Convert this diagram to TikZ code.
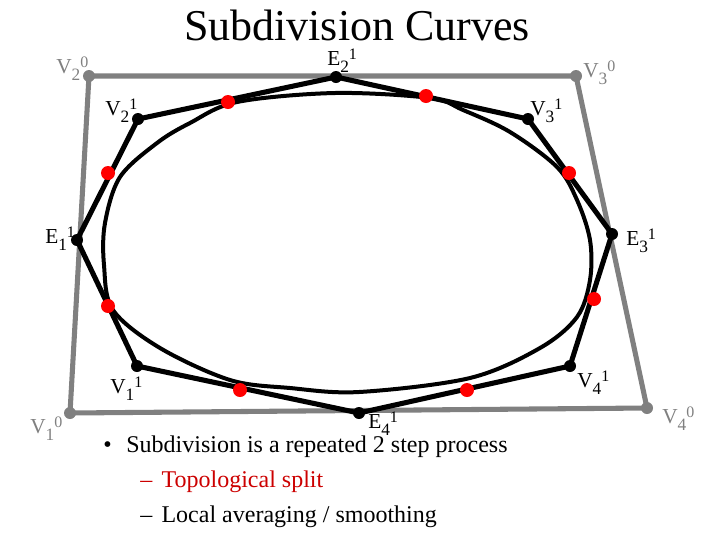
\documentclass[tikz,border=0pt]{standalone}
\usepackage{fontspec}
\setmainfont{Liberation Serif}
\usepackage{xcolor}
\usepackage{tikz}

\definecolor{ctrlgray}{RGB}{128,128,128}
\definecolor{splitred}{RGB}{204,0,0}

% vertex label: letter, subscript, superscript
\newcommand{\vlbl}[3]{\fontsize{16}{18}\selectfont #1\raisebox{-5.5pt}{\fontsize{13}{13}\selectfont #2}\raisebox{4pt}{\fontsize{12}{12}\selectfont #3}}

\tikzset{
  lvl0/.style={draw=ctrlgray, line width=3.8pt, line join=round},
  lvl1/.style={draw=black, line width=3.8pt, line join=round},
  limit/.style={draw=black, line width=3pt},
  gdot/.style={fill=ctrlgray},
  kdot/.style={fill=black},
  rdot/.style={fill=red},
}

\begin{document}
\begin{tikzpicture}[x=0.75pt,y=0.75pt,yscale=-1,xscale=1]
\useasboundingbox (0,0) rectangle (720,540);

% level 0 control points
\coordinate (V10) at (70,413);
\coordinate (V20) at (89,76);
\coordinate (V30) at (576,76);
\coordinate (V40) at (647,408);

% level 1 points
\coordinate (V11) at (137,366);
\coordinate (E11) at (77,240);
\coordinate (V21) at (138,119);
\coordinate (E21) at (336,77);
\coordinate (V31) at (528,119);
\coordinate (E31) at (612,234);
\coordinate (V41) at (570,366);
\coordinate (E41) at (359,413);

% split points
\coordinate (R1) at (108,306);
\coordinate (R2) at (108,173);
\coordinate (R3) at (228,102);
\coordinate (R4) at (426,96);
\coordinate (R5) at (569,173);
\coordinate (R6) at (594,299);
\coordinate (R7) at (467,390);
\coordinate (R8) at (240,390);

\draw [lvl0] (V20) -- (V30) -- (V40) -- (V10) -- cycle ;

\draw [lvl1] (V11) -- (E11) -- (V21) -- (E21) -- (V31) -- (E31) -- (V41) -- (E41) -- cycle ;

\draw [limit] plot [smooth cycle, tension=0.55] coordinates {(335,93) (430,98) (463,110) (510,132) (557,167) (577,200) (590,240) (590,280) (577,317) (540,348) (470,378) (359,392) (290,388) (230,380) (160,348) (113,310) (104,265) (105,223) (120,177) (157,143) (190,123) (237,102)} ;

\foreach \p in {V10,V20,V30,V40} \fill [gdot] (\p) circle (6) ;
\foreach \p in {V11,E11,V21,E21,V31,E31,V41,E41} \fill [kdot] (\p) circle (6) ;
\foreach \p in {R1,R2,R3,R4,R5,R6,R7,R8} \fill [rdot] (\p) circle (7) ;

% labels
\draw (56,73) node [anchor=base west][inner sep=0pt][text=ctrlgray] (lV20) {\vlbl{V}{2}{0}};
\draw (583,77) node [anchor=base west][inner sep=0pt][text=ctrlgray] (lV30) {\vlbl{V}{3}{0}};
\draw (662,423) node [anchor=base west][inner sep=0pt][text=ctrlgray] (lV40) {\vlbl{V}{4}{0}};
\draw (30,433) node [anchor=base west][inner sep=0pt][text=ctrlgray] (lV10) {\vlbl{V}{1}{0}};

\draw (327,65) node [anchor=base west][inner sep=0pt] (lE21) {\vlbl{E}{2}{1}};
\draw (105,115) node [anchor=base west][inner sep=0pt] (lV21) {\vlbl{V}{2}{1}};
\draw (530,115) node [anchor=base west][inner sep=0pt] (lV31) {\vlbl{V}{3}{1}};
\draw (45,243) node [anchor=base west][inner sep=0pt] (lE11) {\vlbl{E}{1}{1}};
\draw (626,245) node [anchor=base west][inner sep=0pt] (lE31) {\vlbl{E}{3}{1}};
\draw (110,393) node [anchor=base west][inner sep=0pt] (lV11) {\vlbl{V}{1}{1}};
\draw (577,387) node [anchor=base west][inner sep=0pt] (lV41) {\vlbl{V}{4}{1}};
\draw (368,428) node [anchor=base west][inner sep=0pt] (lE41) {\vlbl{E}{4}{1}};

% title and text
\draw (357,40) node [anchor=base][inner sep=0pt] (title) {\fontsize{33}{36}\selectfont Subdivision Curves};

\draw (103,452) node [anchor=base west][inner sep=0pt] (item1) {\fontsize{18}{20}\selectfont \textbullet\hspace{11pt}Subdivision is a repeated 2 step process};
\draw (140,487) node [anchor=base west][inner sep=0pt][text=splitred] (item2) {\fontsize{18}{20}\selectfont –\hspace{7pt}Topological split};
\draw (140,522) node [anchor=base west][inner sep=0pt] (item3) {\fontsize{18}{20}\selectfont –\hspace{7pt}Local averaging / smoothing};

\end{tikzpicture}
\end{document}
